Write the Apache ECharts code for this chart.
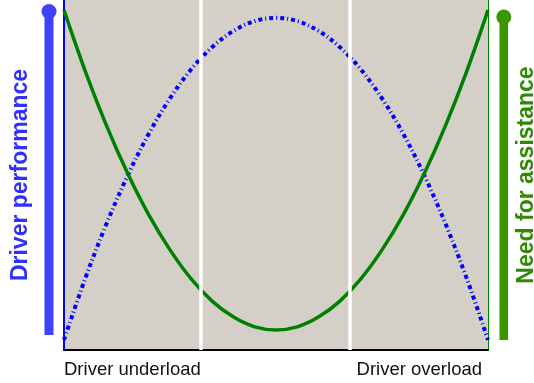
<!DOCTYPE html>
<html>
<head>
<meta charset="utf-8">
<script src="https://cdn.jsdelivr.net/npm/echarts@6/dist/echarts.min.js"></script>
<style>
  html, body { margin: 0; padding: 0; background: #fff; }
  #chart { width: 534px; height: 383px; }
</style>
</head>
<body>
<div id="chart"></div>
<script>
// workload position (0 = underload, 10 = overload)
const xValues = [0, 0.5, 1, 1.5, 2, 2.5, 3, 3.5, 4, 4.5, 5, 5.5, 6, 6.5, 7, 7.5, 8, 8.5, 9, 9.5, 10];
// need for assistance (green, solid)
const assistance = [97.1, 79.7, 64.2, 50.5, 38.6, 28.6, 20.3, 13.9, 9.4, 6.6, 5.7,
  6.6, 9.4, 13.9, 20.3, 28.6, 38.6, 50.5, 64.2, 79.7, 97.1];
// driver performance (blue, dotted)
const performance = [2.9, 20.4, 36.0, 49.8, 61.8, 71.9, 80.2, 86.6, 91.2, 94.0, 94.9,
  94.0, 91.2, 86.6, 80.2, 71.9, 61.8, 49.8, 36.0, 20.4, 2.9];
// zone boundaries (white lines)
const zoneLines = [3.23, 6.75];
// bottom labels and where they start
const bottomLabels = ["Driver underload", "Driver overload"];
const bottomLabelPos = [0, 6.9];

const chart = echarts.init(document.getElementById("chart"));

function pairs(ys) {
  return xValues.map((x, i) => [x, ys[i]]);
}

const option = {
  animation: false,
  grid: {
    left: 64,
    right: 46,
    top: 0,
    bottom: 33,
    outerBoundsMode: "none",
    containLabel: false,
    show: true,
    backgroundColor: "#d4d0c8",
    borderWidth: 0,
  },
  xAxis: {
    type: "value",
    min: 0,
    max: 10,
    axisLine: { show: true, lineStyle: { color: "#000", width: 2 } },
    axisTick: { show: false },
    splitLine: { show: false },
    axisLabel: {
      customValues: bottomLabelPos,
      align: "left",
      margin: 10,
      fontSize: 18.5,
      fontFamily: "Liberation Sans, Arial, sans-serif",
      color: "#111",
      formatter: function (value) {
        const i = bottomLabelPos.indexOf(value);
        return i >= 0 ? bottomLabels[i] : "";
      },
    },
  },
  yAxis: [
    {
      type: "value",
      position: "left",
      min: 0,
      max: 100,
      name: "Driver performance",
      nameLocation: "middle",
      nameRotate: 90,
      nameGap: 32,
      nameTextStyle: {
        color: "#2f2fff",
        fontSize: 23,
        fontWeight: "bold",
        fontFamily: "Liberation Sans, Arial, sans-serif",
      },
      axisLine: { show: true, lineStyle: { color: "#0000ff", width: 2 } },
      axisTick: { show: false },
      axisLabel: { show: false },
      splitLine: { show: false },
    },
    {
      type: "value",
      position: "right",
      min: 0,
      max: 100,
      name: "Need for assistance",
      nameLocation: "middle",
      nameRotate: 90,
      nameGap: 27,
      nameTextStyle: {
        color: "#2e8b00",
        fontSize: 23,
        fontWeight: "bold",
        fontFamily: "Liberation Sans, Arial, sans-serif",
      },
      axisLine: { show: true, lineStyle: { color: "#008000", width: 1 } },
      axisTick: { show: false },
      axisLabel: { show: false },
      splitLine: { show: false },
    },
  ],
  graphic: [
    // blue arrow on the left
    { type: "rect", shape: { x: 44.5, y: 12, width: 9, height: 323 }, style: { fill: "#4040ff" } },
    { type: "circle", shape: { cx: 49, cy: 11.5, r: 7.5 }, style: { fill: "#4040ff" } },
    // green arrow on the right
    { type: "rect", shape: { x: 499.5, y: 17, width: 8.5, height: 323 }, style: { fill: "#3a9600" } },
    { type: "circle", shape: { cx: 503.8, cy: 17, r: 7.5 }, style: { fill: "#3a9600" } },
  ],
  series: [
    {
      type: "line",
      data: [],
      z: 1,
      markLine: {
        silent: true,
        symbol: ["none", "none"],
        label: { show: false },
        lineStyle: { color: "#fff", width: 3.5, type: "solid" },
        data: zoneLines.map(v => ({ xAxis: v })),
      },
    },
    {
      type: "line",
      data: pairs(performance),
      smooth: 0.35,
      showSymbol: false,
      z: 3,
      lineStyle: { color: "#0000ff", width: 4, type: [4, 3, 1, 3], cap: "butt" },
    },
    {
      type: "line",
      data: pairs(assistance),
      smooth: 0.35,
      showSymbol: false,
      z: 4,
      lineStyle: { color: "#008000", width: 3.5 },
    },
  ],
};

chart.setOption(option);
</script>
</body>
</html>
